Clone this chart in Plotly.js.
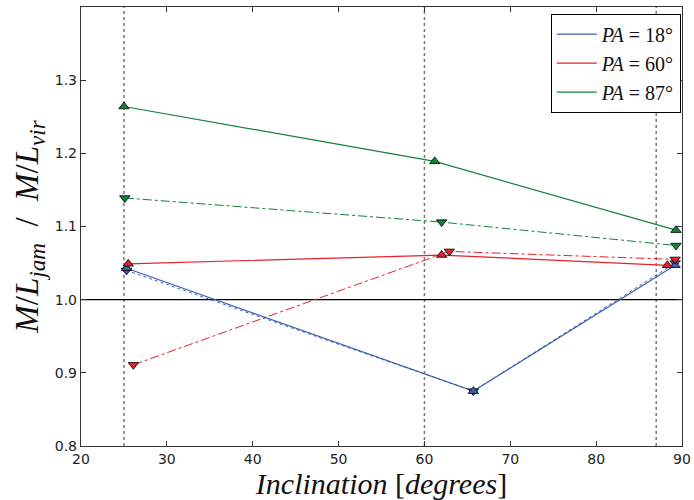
<!DOCTYPE html>
<html><head><meta charset="utf-8">
<script src="https://cdn.plot.ly/plotly-3.0.1.min.js"></script>
<style>body{margin:0;background:#fff}#c{width:694px;height:500px}</style>
</head><body><div id="c"></div>
<script>
// Data
const refInclinations = [25, 60, 87];
const pa18_x_solid = [25.3, 65.7, 89.2];
const pa18_y_solid = [1.043, 0.875, 1.047];
const pa18_x_dash = [25.3, 65.7, 89.2];
const pa18_y_dash = [1.040, 0.875, 1.050];
const pa60_x_solid = [25.5, 62.0, 88.3];
const pa60_y_solid = [1.049, 1.061, 1.047];
const pa60_x_dash = [26.1, 62.9, 89.2];
const pa60_y_dash = [0.911, 1.066, 1.055];
const pa87_x_solid = [25.0, 61.2, 89.3];
const pa87_y_solid = [1.264, 1.189, 1.095];
const pa87_x_dash = [25.1, 62.0, 89.3];
const pa87_y_dash = [1.139, 1.106, 1.074];
const seriesNames = ['<i>PA</i> = 18°', '<i>PA</i> = 60°', '<i>PA</i> = 87°'];
const xTicks = [20, 30, 40, 50, 60, 70, 80, 90];
const yTicks = [0.8, 0.9, 1.0, 1.1, 1.2, 1.3];

const colors = ['#3f5fae', '#e8202a', '#15803d'];
const series = [
  [pa18_x_solid, pa18_y_solid, pa18_x_dash, pa18_y_dash, 'dot'],
  [pa60_x_solid, pa60_y_solid, pa60_x_dash, pa60_y_dash, 'dashdot'],
  [pa87_x_solid, pa87_y_solid, pa87_x_dash, pa87_y_dash, 'dashdot']
];
const traces = [];
refInclinations.forEach(v => traces.push({x:[v,v], y:[0.8,1.4], mode:'lines', line:{color:'#777', width:1.5, dash:'dot'}, showlegend:false, hoverinfo:'skip'}));
traces.push({x:[20,90], y:[1,1], mode:'lines', line:{color:'#000', width:1.2}, showlegend:false, hoverinfo:'skip'});
series.forEach((s, i) => {
  traces.push({x:s[2], y:s[3], mode:'lines', line:{color:colors[i], width:1, dash:s[4]}, showlegend:false});
  traces.push({x:s[0], y:s[1], mode:'lines', line:{color:colors[i], width:1.2}, name:seriesNames[i], showlegend:true});
});
series.forEach((s, i) => {
  traces.push({x:s[2], y:s[3], mode:'markers', marker:{symbol:'triangle-down', size:9, color:colors[i], line:{color:'#000', width:0.8}}, showlegend:false});
  traces.push({x:s[0], y:s[1], mode:'markers', marker:{symbol:'triangle-up', size:9, color:colors[i], line:{color:'#000', width:0.8}}, showlegend:false});
});

const axFont = {family:'DejaVu Sans', size:14, color:'#222'};
const layout = {
  width:694, height:500,
  margin:{l:81, r:12, t:7, b:54},
  paper_bgcolor:'#fff', plot_bgcolor:'#fff',
  xaxis:{range:[20,90], tickvals:xTicks, ticktext:xTicks.map(String), ticks:'inside', ticklen:5, tickcolor:'#333',
    mirror:'allticks', showline:true, linecolor:'#333', linewidth:1.2, showgrid:false, zeroline:false, tickfont:axFont,
    title:{text:'<i>Inclination</i> [<i>degrees</i>]', font:{family:'Liberation Serif', size:30, color:'#111'}, standoff:8}},
  yaxis:{range:[0.8,1.4], tickvals:yTicks, ticktext:yTicks.map(v=>v.toFixed(1)), ticks:'inside', ticklen:5, tickcolor:'#333',
    mirror:'allticks', showline:true, linecolor:'#333', linewidth:1.2, showgrid:false, zeroline:false, tickfont:axFont,
    title:{text:'<i>M</i>/<i>L<sub>jam</sub></i>  /  <i>M</i>/<i>L<sub>vir</sub></i>', font:{family:'Liberation Serif', size:33, color:'#111'}, standoff:6}},
  legend:{x:0.998, xanchor:'right', y:0.985, yanchor:'top', bgcolor:'#fff', bordercolor:'#000', borderwidth:1,
    font:{family:'Liberation Serif', size:20, color:'#111'}, itemwidth:40, tracegroupgap:0},
  showlegend:true
};
Plotly.newPlot('c', traces, layout, {displayModeBar:false, staticPlot:true});
</script></body></html>
